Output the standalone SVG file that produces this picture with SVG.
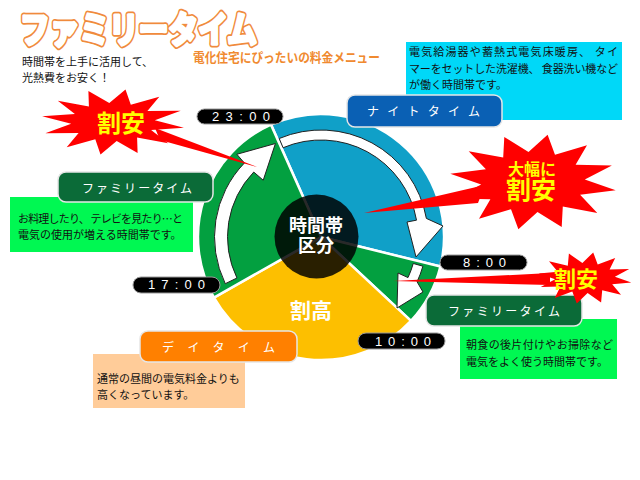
<svg xmlns="http://www.w3.org/2000/svg" width="640" height="480" viewBox="0 0 640 480">
<style>
.jp{font-family:"Noto Sans CJK JP","Noto Sans CJK SC",sans-serif;}
.body{font-family:"Noto Sans CJK JP",sans-serif;font-size:11px;fill:#111;}
.lbl{font-family:"Noto Sans CJK JP",sans-serif;font-size:12px;fill:#fff;}
.lblbox{stroke:#e6e6e6;stroke-width:1.5;}
.pill{fill:#000;stroke:#999;stroke-width:1;}
.ptxt{font-family:"Liberation Sans",Arial,sans-serif;font-size:13px;fill:#fff;}
.burst{fill:#ff0000;}
.btxt{font-family:"Noto Sans CJK JP",sans-serif;font-weight:bold;fill:#ffff00;text-anchor:middle;}
.sec{stroke:#fff;stroke-width:2.5;stroke-linejoin:round;}
.arrow{fill:#fff;stroke:#222;stroke-width:1;stroke-linejoin:miter;}
.ctr{font-family:"Noto Sans CJK JP",sans-serif;font-weight:bold;fill:#fff;text-anchor:middle;}
.ttl{font-family:"Noto Sans CJK JP",sans-serif;font-size:36px;font-weight:bold;stroke-linejoin:round;stroke-linecap:round;}
</style>
<rect width="640" height="480" fill="#fff"/>

<g id="title">
<text class="ttl" x="20" y="43" fill="#f08a3c" stroke="#f08a3c" stroke-width="7" textLength="237" lengthAdjust="spacingAndGlyphs">ファミリータイム</text>
<text class="ttl" x="20" y="43" fill="#fff" stroke="#fff" stroke-width="3.5" textLength="237" lengthAdjust="spacingAndGlyphs">ファミリータイム</text>
<text class="jp" x="193" y="62" font-size="13" font-weight="bold" fill="#f08a30" textLength="187" lengthAdjust="spacingAndGlyphs">電化住宅にぴったいの料金メニュー</text>
<text class="body" x="22" y="66">時間帯を上手に活用して、</text>
<text class="body" x="22" y="82">光熱費をお安く！</text>
</g>

<g id="pie">
<path class="sec" fill="#10a0c8" d="M321,237 L270.97,124.63 A123,123 0 0 1 440.4,266.55 Z"/>
<path class="sec" fill="#03a040" d="M321,237 L440.4,266.55 A123,123 0 0 1 410.96,320.89 Z"/>
<path class="sec" fill="#fdbf00" d="M321,237 L410.96,320.89 A123,123 0 0 1 213.94,297.57 Z"/>
<path class="sec" fill="#03a040" d="M321,237 L213.94,297.57 A123,123 0 0 1 270.97,124.63 Z"/>
</g>

<g id="arrows">
<path class="arrow" d="M225.28,283.69 A106.5,106.5 0 0 1 244.39,163.01 L236.83,154.29 L275.41,143.52 L263.22,180.23 L253.74,172.05 A93.5,93.5 0 0 0 236.96,277.99 Z"/>
<path class="arrow" d="M279.2,138.51 A107,107 0 0 1 426.37,218.42 L443,226 L416,257 L407,222 L416.53,220.16 A97,97 0 0 0 283.1,147.71 Z"/>
<path class="arrow" d="M422.9,266.2 A106,106 0 0 1 417.07,281.8 L423,292 L397,308 L398,273 L408,277.57 A96,96 0 0 0 413.28,263.46 Z"/>
</g>

<g id="center">
<circle cx="316.5" cy="236.5" r="42" fill="#000" fill-opacity="0.84"/>
<text class="ctr" x="316" y="232" font-size="18">時間帯</text>
<text class="ctr" x="316" y="252" font-size="18">区分</text>
</g>
<text class="ctr" x="311" y="318" font-size="21">割高</text>

<g id="night-box">
<rect x="406" y="42" width="216" height="78" fill="#00d8f8"/>
<text class="body" x="409" y="56" textLength="209">電気給湯器や蓄熱式電気床暖房、 タイ</text>
<text class="body" x="409" y="73" textLength="209">マーをセットした洗濯機、 食器洗い機など</text>
<text class="body" x="409" y="89">が働く時間帯です。</text>
</g>
<g id="night-label">
<rect class="lblbox" x="347" y="95" width="155" height="32" rx="8" fill="#0a60b4"/>
<text class="lbl" x="367" y="116" textLength="113">ナイトタイム</text>
</g>

<g id="family-left-box">
<rect x="10" y="197" width="183" height="55" fill="#00f852"/>
<text class="body" x="18" y="223" textLength="165">お料理したり、 テレビを見たり…と</text>
<text class="body" x="18" y="239">電気の使用が増える時間帯です。</text>
</g>
<g id="family-left-label">
<rect class="lblbox" x="58" y="172" width="155" height="30" rx="8" fill="#0b6b38"/>
<text class="lbl" x="82" y="193" textLength="110">ファミリータイム</text>
</g>

<g id="family-right-box">
<rect x="460" y="319" width="157" height="60" fill="#00f852"/>
<text class="body" x="466" y="349" textLength="147">朝食の後片付けやお掃除など</text>
<text class="body" x="466" y="366">電気をよく使う時間帯です。</text>
</g>
<g id="family-right-label">
<rect class="lblbox" x="426" y="295" width="156" height="31" rx="8" fill="#0b6b38"/>
<text class="lbl" x="448" y="316" textLength="112">ファミリータイム</text>
</g>

<g id="day-box">
<rect x="93" y="354" width="152" height="54" fill="#ffcc99"/>
<text class="body" x="97" y="383">通常の昼間の電気料金よりも</text>
<text class="body" x="97" y="399">高くなっています。</text>
</g>
<g id="day-label">
<rect class="lblbox" x="140" y="331" width="157" height="31" rx="8" fill="#ff8000"/>
<text class="lbl" x="162" y="352" textLength="113">デイタイム</text>
</g>

<g id="t2300"><rect class="pill" x="197" y="109" width="86" height="15" rx="7.5"/><text class="ptxt" x="212" y="121" textLength="58">23:00</text></g>
<g id="t0800"><rect class="pill" x="440" y="255" width="87" height="15" rx="7.5"/><text class="ptxt" x="463" y="267" textLength="43">8:00</text></g>
<g id="t1700"><rect class="pill" x="133" y="277" width="87" height="16" rx="8"/><text class="ptxt" x="148" y="289" textLength="57">17:00</text></g>
<g id="t1000"><rect class="pill" x="358" y="333" width="87" height="16" rx="8"/><text class="ptxt" x="375" y="346" textLength="56">10:00</text></g>

<g id="burst-left">
<polygon class="burst" points="155,128 160,140 257,167"/>
<polygon class="burst" points="183.9,127.7 151.1,130 168.2,143.2 137.1,137.6 137.6,153 116.7,140.9 100.5,154.5 95.3,139.2 66.7,147.3 78.6,132.9 45.3,133.3 71.2,123.7 42.1,116.3 74.9,114 57.8,100.8 88.9,106.4 88.4,91 109.3,103.1 125.5,89.5 130.8,104.8 159.3,96.7 147.4,111.1 180.7,110.7 154.8,120.3"/>
<text class="btxt" x="121" y="132" font-size="24">割安</text>
</g>

<g id="burst-right">
<polygon class="burst" points="485,185 478,203 364,213"/>
<polygon class="burst" points="615.7,190.3 580.1,194.7 597.3,212.9 562.8,206.6 561.7,227.1 537.5,211.9 518.4,229.3 511,209.2 479,218.8 490.4,199.2 454.1,198.4 481.2,184.6 450.3,173.7 485.9,169.3 468.7,151.2 503.2,157.4 504.3,136.9 528.5,152.1 547.6,134.7 555,154.8 587,145.2 575.6,164.8 611.9,165.6 584.8,179.4"/>
<text class="btxt" x="532" y="175" font-size="16">大幅に</text>
<text class="btxt" x="531" y="199" font-size="25">割安</text>
</g>

<g id="burst-bottom">
<polygon class="burst" points="550,273 550,285 393,281"/>
<polygon class="burst" points="631.3,282.5 612.2,284.3 621,294.7 602.2,290.3 601.1,302.4 587.6,292.9 576.8,303.6 572.3,291.6 554.8,297.9 560.4,286.6 540.8,286.9 555.1,279.3 538.7,273.5 557.8,271.7 549,261.3 567.8,265.7 568.9,253.6 582.4,263.1 593.2,252.4 597.7,264.4 615.2,258.1 609.6,269.4 629.2,269.1 614.9,276.7"/>
<text class="btxt" x="576" y="287" font-size="22">割安</text>
</g>
</svg>
